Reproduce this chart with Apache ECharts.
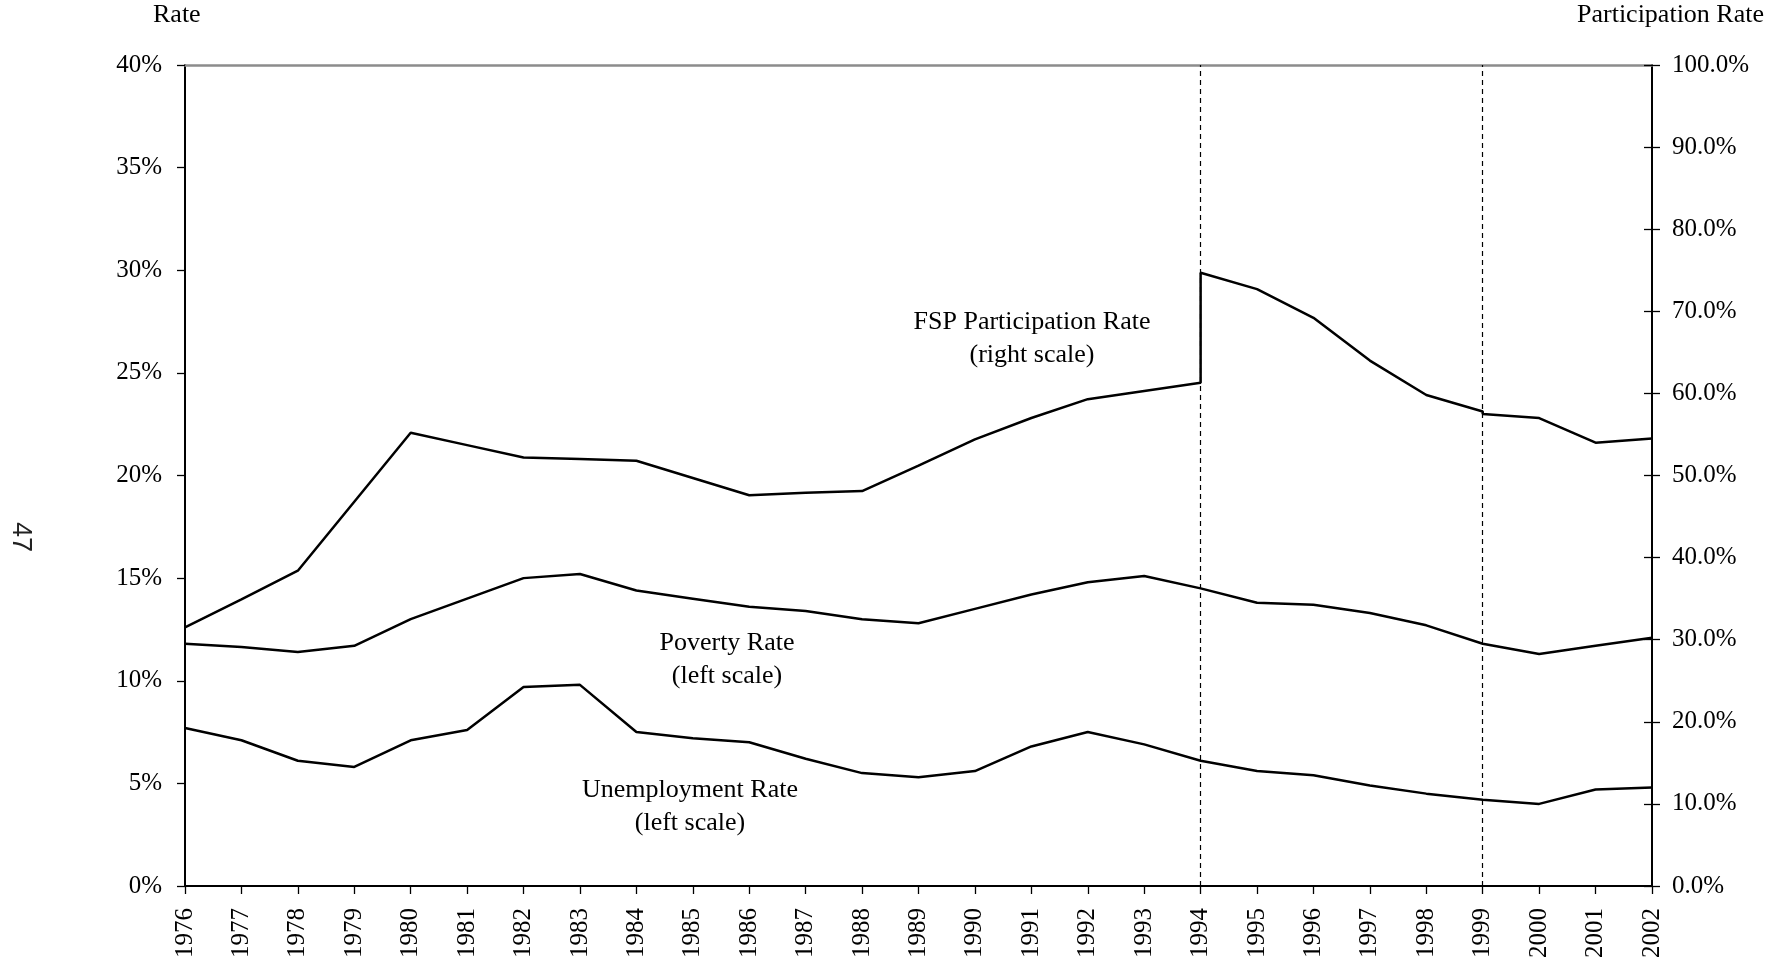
<!DOCTYPE html>
<html>
<head>
<meta charset="utf-8">
<script src="https://cdn.jsdelivr.net/npm/echarts@6/dist/echarts.min.js"></script>
<style>
html,body{margin:0;padding:0;background:#fff;}
#chart{width:1779px;height:962px;}
</style>
</head>
<body>
<div id="chart"></div>
<script>
// ---- Data ----
var years = [1976,1977,1978,1979,1980,1981,1982,1983,1984,1985,1986,1987,1988,1989,1990,1991,1992,1993,1994,1995,1996,1997,1998,1999,2000,2001,2002];
var povertyRate = [11.8,11.65,11.4,11.7,13.0,14.0,15.0,15.2,14.4,14.0,13.6,13.4,13.0,12.8,13.5,14.2,14.8,15.1,14.5,13.8,13.7,13.3,12.7,11.8,11.3,11.7,12.1];
var unemploymentRate = [7.7,7.1,6.1,5.8,7.1,7.6,9.7,9.8,7.5,7.2,7.0,6.2,5.5,5.3,5.6,6.8,7.5,6.9,6.1,5.6,5.4,4.9,4.5,4.2,4.0,4.7,4.8];
// FSP participation: two values at 1994 and at 1999 (series breaks)
var fspYears = [1976,1977,1978,1979,1980,1981,1982,1983,1984,1985,1986,1987,1988,1989,1990,1991,1992,1993,1994,1994,1995,1996,1997,1998,1999,1999,2000,2001,2002];
var fspRate = [31.5,34.9,38.4,46.8,55.2,53.7,52.2,52.0,51.8,49.7,47.6,47.9,48.1,51.2,54.4,57.0,59.3,60.3,61.3,74.7,72.7,69.2,64.0,59.8,57.8,57.5,57.0,54.0,54.5];
var breakYears = [1994, 1999];
var leftTicks = [0,5,10,15,20,25,30,35,40];
var rightTicks = [0,10,20,30,40,50,60,70,80,90,100];

function pairs(xs, ys){ return xs.map(function(x,i){ return [x, ys[i]]; }); }

var FONT = '"Liberation Serif","Times New Roman",serif';
var chart = echarts.init(document.getElementById('chart'), null, {renderer:'canvas'});

var lineStyle = {color:'#000', width:2.5};

var option = {
  animation:false,
  backgroundColor:'#fff',
  grid:{left:185, right:127, top:65, bottom:76, containLabel:false},
  xAxis:[{
    type:'value', min:years[0], max:years[years.length-1], interval:1,
    position:'bottom',
    axisLine:{show:true, onZero:false, lineStyle:{color:'#000', width:2}},
    axisTick:{show:true, length:8, lineStyle:{color:'#000', width:1.3}},
    axisLabel:{rotate:90, margin:22, fontFamily:FONT, fontSize:25, color:'#000',
      formatter:function(v){ return String(v); }},
    splitLine:{show:false}
  },{
    type:'value', min:years[0], max:years[years.length-1], position:'top',
    axisLine:{show:true, onZero:false, lineStyle:{color:'#8c8c8c', width:2.5}},
    axisTick:{show:false}, axisLabel:{show:false}, splitLine:{show:false}
  }],
  yAxis:[{
    type:'value', min:leftTicks[0], max:leftTicks[leftTicks.length-1], interval:5,
    position:'left',
    axisLine:{show:true, onZero:false, lineStyle:{color:'#000', width:2}},
    axisTick:{show:true, length:8, lineStyle:{color:'#000', width:1.3}},
    axisLabel:{margin:23, fontFamily:FONT, fontSize:25, color:'#000',
      formatter:function(v){ return v + '%'; }},
    splitLine:{show:false}
  },{
    type:'value', min:rightTicks[0], max:rightTicks[rightTicks.length-1], interval:10,
    position:'right',
    axisLine:{show:true, onZero:false, lineStyle:{color:'#000', width:2}},
    axisTick:{show:true, length:8, lineStyle:{color:'#000', width:1.3}},
    axisLabel:{margin:20, fontFamily:FONT, fontSize:25, color:'#000',
      formatter:function(v){ return v.toFixed(1) + '%'; }},
    splitLine:{show:false}
  },{
    type:'value', min:rightTicks[0], max:rightTicks[rightTicks.length-1], interval:10,
    position:'right',
    axisLine:{show:false},
    axisTick:{show:true, inside:true, length:8, lineStyle:{color:'#000', width:1.3}},
    axisLabel:{show:false}, splitLine:{show:false}
  }],
  series:[{
    name:'FSP Participation Rate', type:'line', yAxisIndex:1,
    data:pairs(fspYears, fspRate), showSymbol:false, symbol:'none',
    lineStyle:lineStyle, z:3,
    markLine:{
      silent:true, symbol:['none','none'], label:{show:false},
      lineStyle:{color:'#000', width:1.2, type:[5,4]},
      data:breakYears.map(function(y){ return {xAxis:y}; })
    }
  },{
    name:'Poverty Rate', type:'line', yAxisIndex:0,
    data:pairs(years, povertyRate), showSymbol:false, symbol:'none',
    lineStyle:lineStyle, z:3
  },{
    name:'Unemployment Rate', type:'line', yAxisIndex:0,
    data:pairs(years, unemploymentRate), showSymbol:false, symbol:'none',
    lineStyle:lineStyle, z:3
  }],
  graphic:[
    {type:'text', left:153, top:2, style:{text:'Rate', font:'26px '+FONT, fill:'#000'}},
    {type:'text', right:15, top:2, style:{text:'Participation Rate', font:'26px '+FONT, fill:'#000', textAlign:'right'}},
    {type:'text', x:1032, y:339, style:{text:'FSP Participation Rate\n(right scale)', font:'26px '+FONT, fill:'#000', align:'center', verticalAlign:'middle', lineHeight:33}},
    {type:'text', x:727, y:660, style:{text:'Poverty Rate\n(left scale)', font:'26px '+FONT, fill:'#000', align:'center', verticalAlign:'middle', lineHeight:33}},
    {type:'text', x:690, y:807, style:{text:'Unemployment Rate\n(left scale)', font:'26px '+FONT, fill:'#000', align:'center', verticalAlign:'middle', lineHeight:33}},
    {type:'text', x:20, y:537, rotation:-Math.PI/2, style:{text:'47', font:'27px "Liberation Sans","DejaVu Sans",sans-serif', fill:'#222', align:'center', verticalAlign:'middle'}}
  ]
};
chart.setOption(option);
</script>
</body>
</html>
